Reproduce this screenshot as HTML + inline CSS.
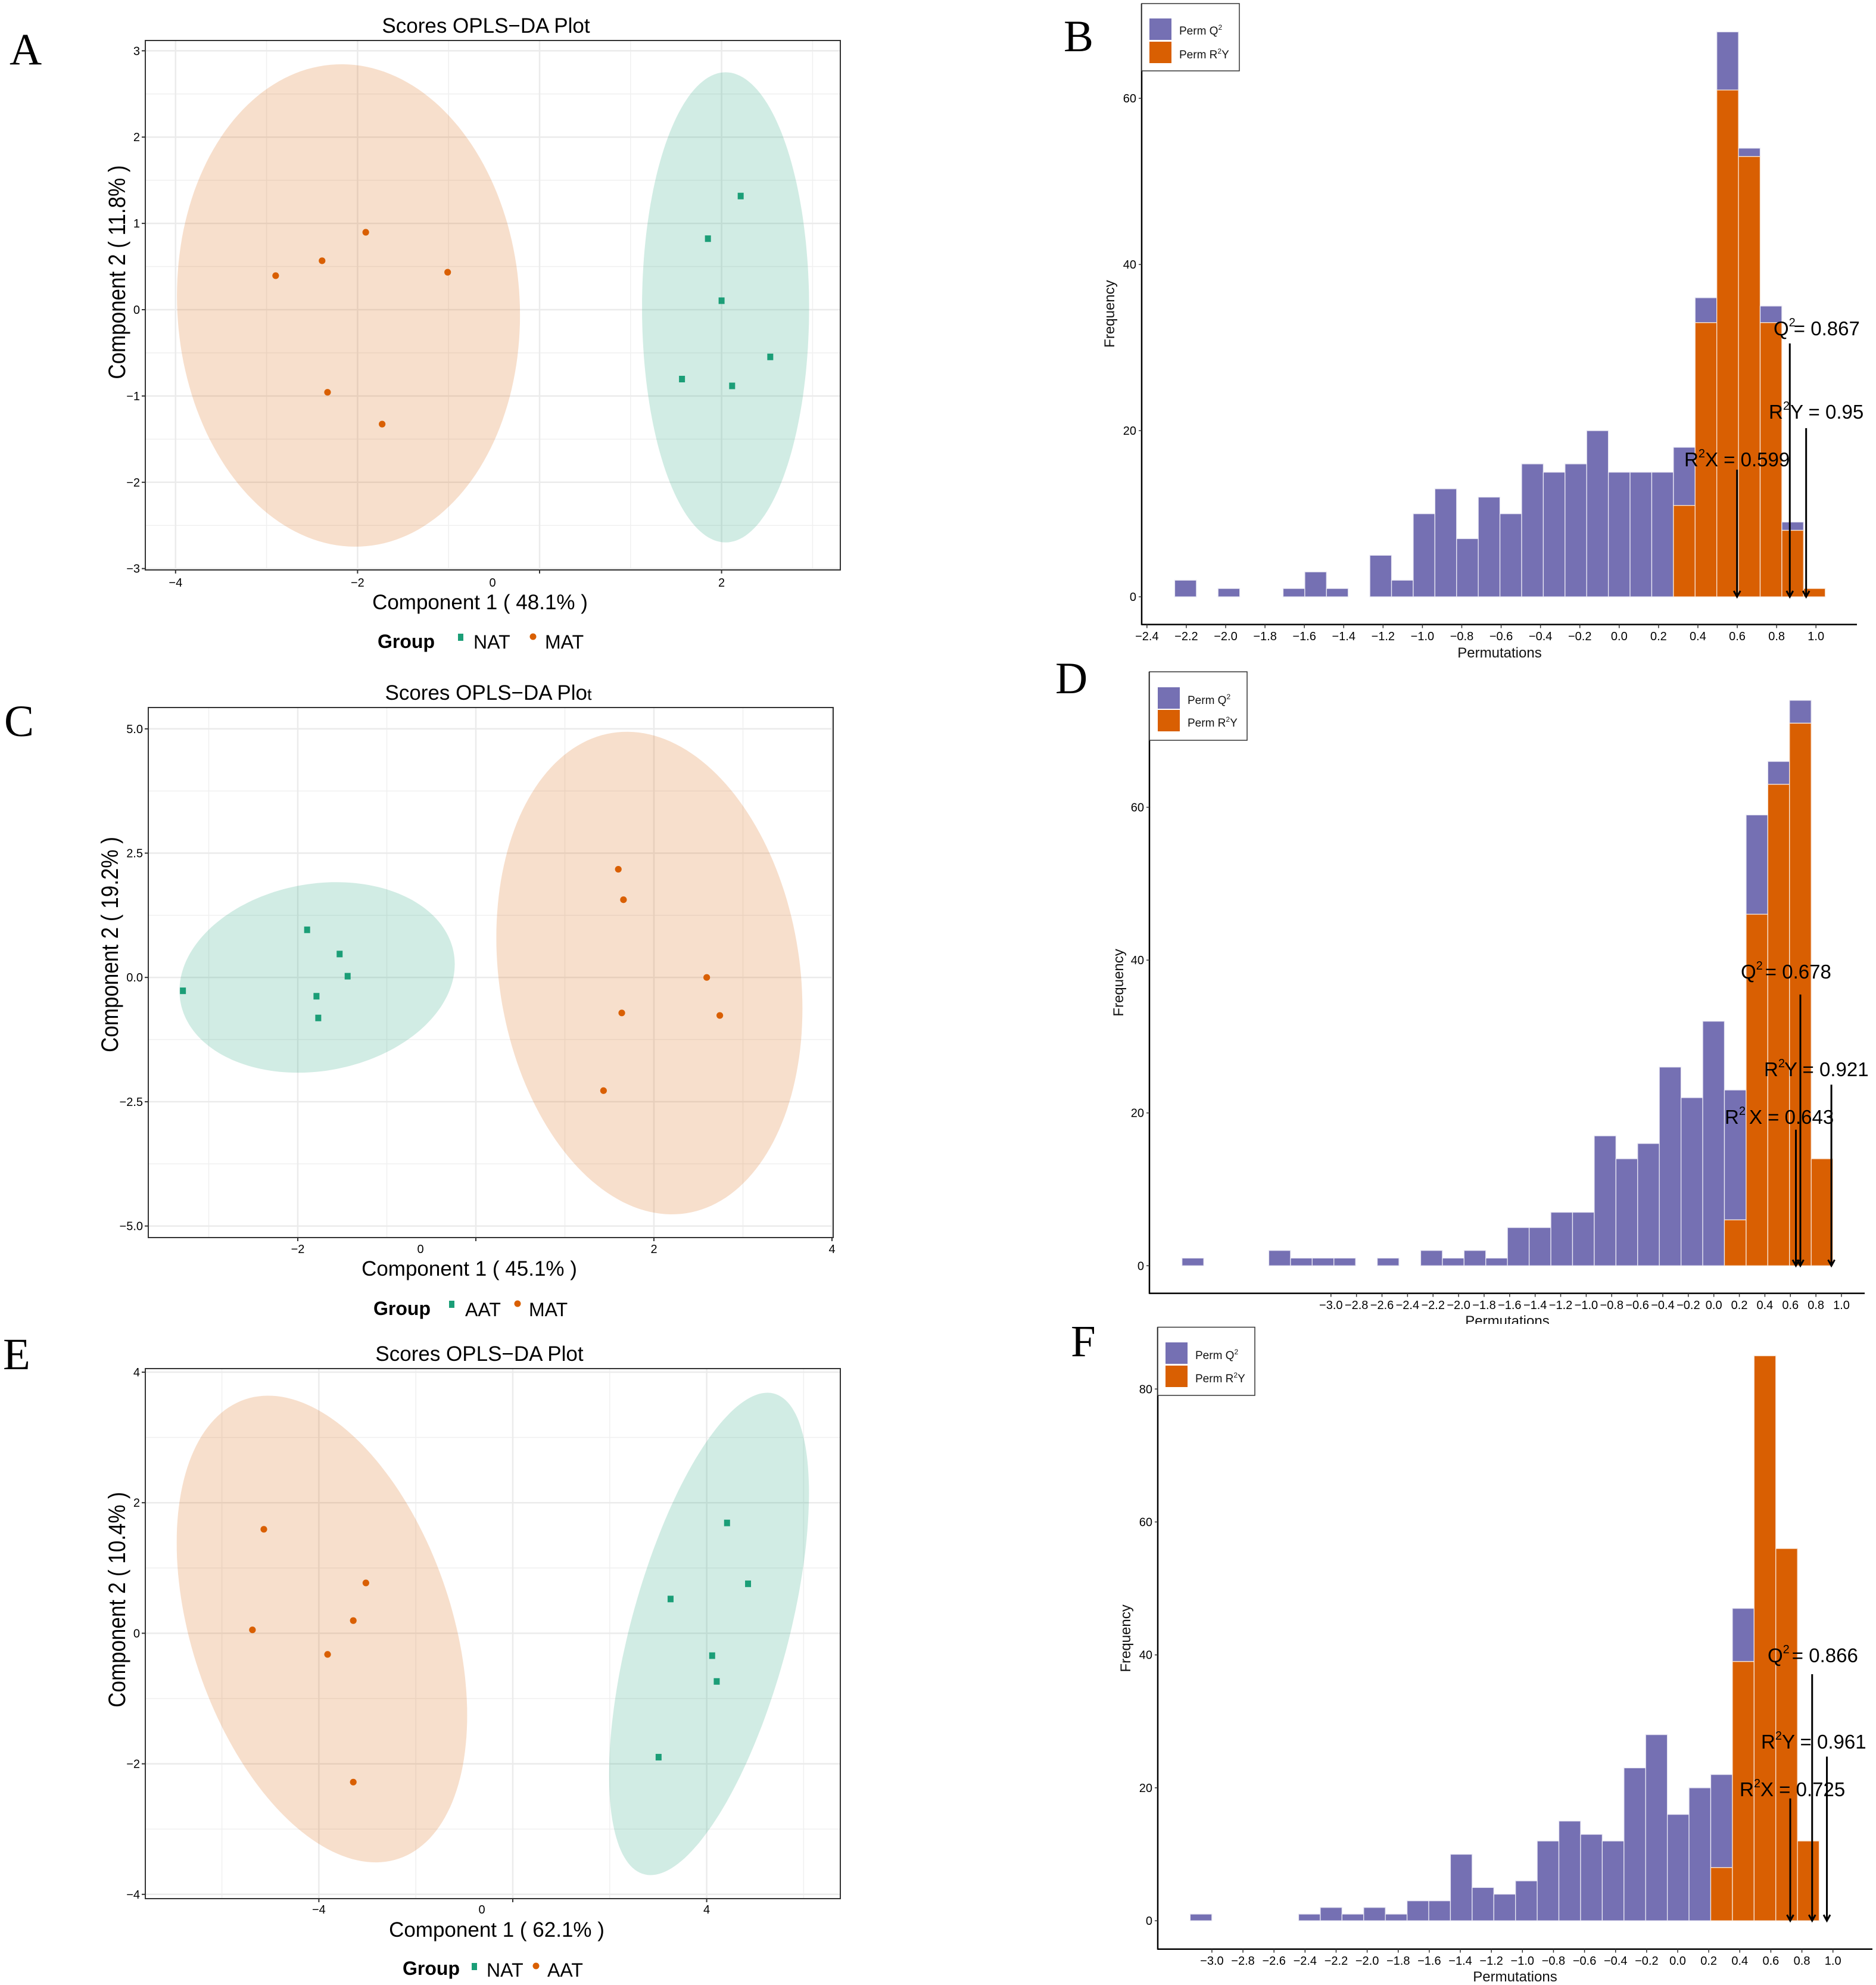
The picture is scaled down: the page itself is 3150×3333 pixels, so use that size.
<!DOCTYPE html>
<html lang="en">
<head>
<meta charset="utf-8">
<title>OPLS-DA scores and permutation tests</title>
<style>
html,body{margin:0;padding:0;background:#fff;}
svg{display:block;}
text{font-family:"Liberation Sans",Arial,sans-serif;fill:#000;}
.letter{font-family:"Liberation Serif","Times New Roman",serif;font-size:75px;}
.title{font-size:35px;text-anchor:middle;}
.axt{font-size:35px;text-anchor:middle;}
.grp{font-size:32px;font-weight:bold;}
.lg{font-size:32px;}
.ann{font-size:33px;}
.sup{font-size:20px;}
.hl{font-size:19px;fill:#111;}
.hax{font-size:24px;text-anchor:middle;fill:#111;}
</style>
</head>
<body>
<svg id="figure" xmlns="http://www.w3.org/2000/svg" width="3150" height="3333" viewBox="0 0 3150 3333">
<defs><clipPath id="clip-d-title"><rect x="2300" y="2190" width="500" height="33"/></clipPath></defs>
<rect x="0" y="0" width="3150" height="3333" fill="#fff"/>
<g id="layer-charts"></g>

<text class="letter" x="16" y="108">A</text>
<text class="letter" x="1786" y="86">B</text>
<text class="letter" x="7" y="1236">C</text>
<text class="letter" x="1772" y="1164">D</text>
<text class="letter" x="5" y="2299">E</text>
<text class="letter" x="1798" y="2277">F</text>

<!-- Panel A text -->
<text class="title" x="816" y="55">Scores OPLS−DA Plot</text>
<text class="axt" x="806" y="1023">Component 1 ( 48.1% )</text>
<text class="axt" transform="translate(210,457) rotate(-90) scale(1,1.15)">Component 2 ( 11.8% )</text>
<text class="grp" x="634" y="1088">Group</text>
<rect x="769" y="1064" width="9" height="12" fill="#1B9E77"/>
<text class="lg" x="795" y="1089">NAT</text>
<circle cx="895" cy="1069" r="5.5" fill="#D95F02"/>
<text class="lg" x="915" y="1089">MAT</text>

<!-- Panel C text -->
<text class="title" x="820" y="1175">Scores OPLS−DA Plo<tspan font-size="27">t</tspan></text>
<text class="axt" x="788" y="2142">Component 1 ( 45.1% )</text>
<text class="axt" transform="translate(198,1586) rotate(-90) scale(1,1.15)">Component 2 ( 19.2% )</text>
<text class="grp" x="627" y="2208">Group</text>
<rect x="754" y="2184" width="9" height="12" fill="#1B9E77"/>
<text class="lg" x="781" y="2210">AAT</text>
<circle cx="869" cy="2189" r="5.5" fill="#D95F02"/>
<text class="lg" x="888" y="2210">MAT</text>

<!-- Panel E text -->
<text class="title" x="805" y="2285">Scores OPLS−DA Plot</text>
<text class="axt" x="834" y="3252">Component 1 ( 62.1% )</text>
<text class="axt" transform="translate(210,2686) rotate(-90) scale(1,1.15)">Component 2 ( 10.4% )</text>
<text class="grp" x="676" y="3316">Group</text>
<rect x="792" y="3296" width="9" height="12" fill="#1B9E77"/>
<text class="lg" x="817" y="3319">NAT</text>
<circle cx="900" cy="3301" r="5.5" fill="#D95F02"/>
<text class="lg" x="919" y="3319">AAT</text>

<!-- Panel B text -->
<text class="hax" x="2518" y="1104">Permutations</text>
<text class="hax" transform="translate(1871,527) rotate(-90)">Frequency</text>
<rect x="1917" y="6" width="164" height="113" fill="#fff" stroke="#333" stroke-width="1.5"/>
<rect x="1930" y="31" width="37" height="36" fill="#7570B3"/>
<rect x="1930" y="70" width="37" height="36" fill="#D95F02"/>
<text class="hl" x="1980" y="58">Perm Q<tspan font-size="12" dy="-8">2</tspan></text>
<text class="hl" x="1980" y="98">Perm R<tspan font-size="12" dy="-8">2</tspan><tspan dy="8">Y</tspan></text>

<!-- Panel D text -->
<text class="hax" x="2531" y="2226" clip-path="url(#clip-d-title)">Permutations</text>
<text class="hax" transform="translate(1886,1650) rotate(-90)">Frequency</text>
<rect x="1930" y="1128" width="164" height="115" fill="#fff" stroke="#333" stroke-width="1.5"/>
<rect x="1944" y="1154" width="37" height="36" fill="#7570B3"/>
<rect x="1944" y="1192" width="37" height="36" fill="#D95F02"/>
<text class="hl" x="1994" y="1182">Perm Q<tspan font-size="12" dy="-8">2</tspan></text>
<text class="hl" x="1994" y="1220">Perm R<tspan font-size="12" dy="-8">2</tspan><tspan dy="8">Y</tspan></text>

<!-- Panel F text -->
<text class="hax" x="2544" y="3327">Permutations</text>
<text class="hax" transform="translate(1898,2751) rotate(-90)">Frequency</text>
<rect x="1944" y="2228.5" width="163" height="114.5" fill="#fff" stroke="#333" stroke-width="1.5"/>
<rect x="1957" y="2254" width="37" height="36" fill="#7570B3"/>
<rect x="1957" y="2293" width="37" height="36" fill="#D95F02"/>
<text class="hl" x="2007" y="2282">Perm Q<tspan font-size="12" dy="-8">2</tspan></text>
<text class="hl" x="2007" y="2321">Perm R<tspan font-size="12" dy="-8">2</tspan><tspan dy="8">Y</tspan></text>

<g id="layer-annotations"></g>
<text class="ann" x="2978" y="563">Q<tspan class="sup" dy="-15">2</tspan><tspan dy="15" dx="-3">= 0.867</tspan></text>
<text class="ann" x="2970" y="703">R<tspan class="sup" dy="-15">2</tspan><tspan dy="15" dx="1">Y = 0.95</tspan></text>
<text class="ann" x="2828" y="783">R<tspan class="sup" dy="-15">2</tspan><tspan dy="15" dx="0">X = 0.599</tspan></text>
<text class="ann" x="2923" y="1643">Q<tspan class="sup" dy="-15">2</tspan><tspan dy="15" dx="4">= 0.678</tspan></text>
<text class="ann" x="2962" y="1807">R<tspan class="sup" dy="-15">2</tspan><tspan dy="15" dx="-1">Y = 0.921</tspan></text>
<text class="ann" x="2896" y="1887">R<tspan class="sup" dy="-15">2</tspan><tspan dy="15" dx="6">X = 0.643</tspan></text>
<text class="ann" x="2968" y="2791">Q<tspan class="sup" dy="-15">2</tspan><tspan dy="15" dx="4">= 0.866</tspan></text>
<text class="ann" x="2957" y="2936">R<tspan class="sup" dy="-15">2</tspan><tspan dy="15" dx="0">Y = 0.961</tspan></text>
<text class="ann" x="2921" y="3016">R<tspan class="sup" dy="-15">2</tspan><tspan dy="15" dx="0">X = 0.725</tspan></text>
</svg>

<script>
// ---------- Panel A data ----------
const aXTicks = [-4, -2, 0, 2];
const aXMinor = [-3, -1, 1, 3];
const aYTicks = [-3, -2, -1, 0, 1, 2, 3];
const aYMinor = [-2.5, -1.5, -0.5, 0.5, 1.5, 2.5];
const aNatX = [2.21, 1.85, 2.00, 2.535, 1.565, 2.116];
const aNatY = [1.317, 0.823, 0.104, -0.547, -0.804, -0.883];
const aMatX = [-2.90, -2.39, -1.91, -1.01, -2.33, -1.73];
const aMatY = [0.394, 0.567, 0.897, 0.434, -0.957, -1.326];
const aNatEllipse = [2.044, 0.027, 0.918, 2.724, 0.0];
const aMatEllipse = [-2.10, 0.049, 1.885, 2.795, -0.04];

// ---------- Panel C data ----------
const cXTicks = [-2, 0, 2, 4];
const cXMinor = [-3, -1, 1, 3];
const cYTicks = [-5, -2.5, 0, 2.5, 5];
const cYMinor = [-3.75, -1.25, 1.25, 3.75];
const cAatX = [-3.29, -1.895, -1.53, -1.44, -1.79, -1.77];
const cAatY = [-0.269, 0.958, 0.471, 0.025, -0.378, -0.815];
const cMatX = [1.60, 1.658, 2.593, 2.74, 1.639, 1.434];
const cMatY = [2.176, 1.563, 0, -0.765, -0.714, -2.277];
const cAatEllipse = [-1.783, 0.0, 1.546, 1.916, 0.139];
const cMatEllipse = [1.949, 0.088, 1.719, 4.853, -0.147];

// ---------- Panel E data ----------
const eXTicks = [-4, 0, 4];
const eXMinor = [-6, -2, 2, 6];
const eYTicks = [-4, -2, 0, 2, 4];
const eYMinor = [-3, -1, 1, 3];
const eNatX = [4.42, 4.853, 3.255, 4.113, 4.207, 3.008];
const eNatY = [1.69, 0.758, 0.525, -0.343, -0.738, -1.898];
const eAatX = [-5.135, -3.03, -3.29, -5.37, -3.82, -3.29];
const eAatY = [1.593, 0.771, 0.194, 0.052, -0.324, -2.28];
const eNatEllipse = [4.048, -0.01, 2.062, 3.695, 0.584];
const eAatEllipse = [-3.937, 0.065, 2.996, 3.575, -0.37];

// ---------- Panel B data ----------
const bXTicks = [-2.4,-2.2,-2.0,-1.8,-1.6,-1.4,-1.2,-1.0,-0.8,-0.6,-0.4,-0.2,0.0,0.2,0.4,0.6,0.8,1.0];
const bYTicks = [0, 20, 40, 60];
const bBinStart = -2.259;
const bBinWidth = 0.1102;
const bQ2Counts = [2,0,1,0,0,1,3,1,0,5,2,10,13,7,12,10,16,15,16,20,15,15,15,7,3,7,1,2,1,0];
const bR2yCounts = [0,0,0,0,0,0,0,0,0,0,0,0,0,0,0,0,0,0,0,0,0,0,0,11,33,61,53,33,8,1];
const bStatValues = [0.599, 0.867, 0.95];
const bArrowTops = [15.3, 30.5, 20.3];

// ---------- Panel D data ----------
const dXTicks = [-3.0,-2.8,-2.6,-2.4,-2.2,-2.0,-1.8,-1.6,-1.4,-1.2,-1.0,-0.8,-0.6,-0.4,-0.2,0.0,0.2,0.4,0.6,0.8,1.0];
const dYTicks = [0, 20, 40, 60];
const dBinStart = -4.167;
const dBinWidth = 0.17;
const dQ2Counts = [1,0,0,0,2,1,1,1,0,1,0,2,1,2,1,5,5,7,7,17,14,16,26,22,32,17,13,3,3,0];
const dR2yCounts = [0,0,0,0,0,0,0,0,0,0,0,0,0,0,0,0,0,0,0,0,0,0,0,0,0,6,46,63,71,14];
const dStatValues = [0.643, 0.678, 0.921];
const dArrowTops = [17.8, 35.5, 23.7];

// ---------- Panel F data ----------
const fXTicks = [-3.0,-2.8,-2.6,-2.4,-2.2,-2.0,-1.8,-1.6,-1.4,-1.2,-1.0,-0.8,-0.6,-0.4,-0.2,0.0,0.2,0.4,0.6,0.8,1.0];
const fYTicks = [0, 20, 40, 60, 80];
const fBinStart = -3.14;
const fBinWidth = 0.1397;
const fQ2Counts = [1,0,0,0,0,1,2,1,2,1,3,3,10,5,4,6,12,15,13,12,23,28,16,20,14,8,0,0,0];
const fR2yCounts = [0,0,0,0,0,0,0,0,0,0,0,0,0,0,0,0,0,0,0,0,0,0,0,0,8,39,85,56,12];
const fStatValues = [0.725, 0.866, 0.961];
const fArrowTops = [18.4, 37.1, 24.7];

// ---------- Drawing ----------
const NS = 'http://www.w3.org/2000/svg';
const GREEN = '#1B9E77', ORANGE = '#D95F02', PURPLE = '#7570B3';
const chartLayer = document.getElementById('layer-charts');
const annotLayer = document.getElementById('layer-annotations');

function make(tag, parent, props) {
  const el = document.createElementNS(NS, tag);
  for (const k in props) el.setAttribute(k, props[k]);
  parent.appendChild(el);
  return el;
}
function minusText(v, digits) {
  const s = digits ? Math.abs(v).toFixed(digits) : String(Math.abs(v));
  return (v < 0 ? '\u2212' : '') + s;
}

function drawScores(prefix, box, xTicks, xMinor, yTicks, yMinor, yDigits, groupA, groupB) {
  const sx = v => box.x0 + v * box.xUnit;
  const sy = v => box.y0 - v * box.yUnit;
  const g = make('g', chartLayer, {});
  
  

  xMinor.forEach(v => {
    const el = make('line', g, {x1: sx(v), x2: sx(v), y1: box.top, y2: box.bottom, stroke: '#f0f0f0', 'stroke-width': 1.5});
    
    
  });
  yMinor.forEach(v => {
    const el = make('line', g, {x1: box.left, x2: box.right, y1: sy(v), y2: sy(v), stroke: '#f0f0f0', 'stroke-width': 1.5});
    
    
  });
  xTicks.forEach(v => {
    const el = make('line', g, {x1: sx(v), x2: sx(v), y1: box.top, y2: box.bottom, stroke: '#ebebeb', 'stroke-width': 2.5});
    
    
  });
  yTicks.forEach(v => {
    const el = make('line', g, {x1: box.left, x2: box.right, y1: sy(v), y2: sy(v), stroke: '#ebebeb', 'stroke-width': 2.5});
    
    
  });

  [groupA, groupB].forEach(group => {
    const [cx, cy, rx, ry, rho] = group.ellipse;
    const phi = Math.acos(rho);
    const pts = [];
    for (let i = 0; i < 180; i++) {
      const t = i / 180 * 2 * Math.PI;
      pts.push(sx(cx + rx * Math.cos(t)).toFixed(1) + ',' + sy(cy + ry * Math.cos(t - phi)).toFixed(1));
    }
    const el = make('polygon', g, {points: pts.join(' '), fill: group.color, 'fill-opacity': 0.2});
    
    
  });

  [groupA, groupB].forEach(group => {
    group.xs.forEach((xv, i) => {
      let el;
      if (group.square) {
        el = make('rect', g, {x: sx(xv) - 5, y: sy(group.ys[i]) - 5.5, width: 10, height: 11, fill: group.color});
      } else {
        el = make('circle', g, {cx: sx(xv), cy: sy(group.ys[i]), r: 5.6, fill: group.color});
      }
      
      
    });
  });

  const frame = make('rect', g, {x: box.left, y: box.top, width: box.right - box.left, height: box.bottom - box.top, fill: 'none', stroke: '#333', 'stroke-width': 2});
  
  

  xTicks.forEach(v => {
    const tick = make('line', g, {x1: sx(v), x2: sx(v), y1: box.bottom, y2: box.bottom + 6, stroke: '#333', 'stroke-width': 2});
    
    
    const off = v === 0 ? box.zeroOffset : 0;
    const lab = make('text', g, {x: sx(v) + off, y: box.xLabelY, 'text-anchor': 'middle', 'font-size': 20, fill: '#333'});
    lab.textContent = minusText(v, 0);
    
    
  });
  yTicks.forEach(v => {
    const tick = make('line', g, {x1: box.left - 6, x2: box.left, y1: sy(v), y2: sy(v), stroke: '#333', 'stroke-width': 2});
    
    
    const lab = make('text', g, {x: box.left - 9, y: sy(v) + 7, 'text-anchor': 'end', 'font-size': 20, fill: '#333'});
    lab.textContent = minusText(v, yDigits);
    
    
  });
}

function drawHistogram(prefix, box, xTicks, yTicks, binStart, binWidth, q2, r2y, stats, tops) {
  const sx = v => box.x0 + v * box.xUnit;
  const sy = v => box.y0 - v * box.yUnit;
  const g = make('g', chartLayer, {});
  
  

  q2.forEach((count, i) => {
    const x1 = sx(binStart + i * binWidth), x2 = sx(binStart + (i + 1) * binWidth);
    const r = r2y[i];
    if (count > 0) {
      const bar = make('rect', g, {x: x1, y: sy(r + count), width: x2 - x1, height: sy(r) - sy(r + count), fill: PURPLE, stroke: '#e9e8f3', 'stroke-width': 1.3});
      
      
    }
    if (r > 0) {
      const bar = make('rect', g, {x: x1, y: sy(r), width: x2 - x1, height: sy(0) - sy(r), fill: ORANGE, stroke: '#f8e6d8', 'stroke-width': 1.3});
      
      
    }
  });

  const yAxis = make('line', g, {x1: box.left, x2: box.left, y1: box.top, y2: box.bottom + 1, stroke: '#000', 'stroke-width': 2.5});
  
  
  const xAxis = make('line', g, {x1: box.left, x2: box.right, y1: box.bottom, y2: box.bottom, stroke: '#000', 'stroke-width': 2.5});
  
  

  xTicks.forEach(v => {
    const tick = make('line', g, {x1: sx(v), x2: sx(v), y1: box.bottom, y2: box.bottom + 6, stroke: '#333', 'stroke-width': 1.5});
    
    
    const lab = make('text', g, {x: sx(v), y: box.xLabelY, 'text-anchor': 'middle', 'font-size': 20, fill: '#222'});
    lab.textContent = minusText(v, 1);
    
    
  });
  yTicks.forEach(v => {
    const tick = make('line', g, {x1: box.left - 5, x2: box.left, y1: sy(v), y2: sy(v), stroke: '#333', 'stroke-width': 1.5});
    
    
    const lab = make('text', g, {x: box.left - 9, y: sy(v) + 7, 'text-anchor': 'end', 'font-size': 20, fill: '#222'});
    lab.textContent = String(v);
    
    
  });

  stats.forEach((v, i) => {
    const x = sx(v), yTop = sy(tops[i]), yEnd = sy(0);
    const arrow = make('path', annotLayer, {
      d: 'M' + x + ' ' + yTop + 'L' + x + ' ' + yEnd + 'M' + (x - 5.5) + ' ' + (yEnd - 10) + 'L' + x + ' ' + yEnd + 'L' + (x + 5.5) + ' ' + (yEnd - 10),
      fill: 'none', stroke: '#000', 'stroke-width': 3
    });
    
    
  });
}

drawScores('a',
  {x0: 906, xUnit: 152.8, y0: 520, yUnit: 144.9, left: 244, right: 1411, top: 68, bottom: 957, xLabelY: 985, zeroOffset: -79},
  aXTicks, aXMinor, aYTicks, aYMinor, 0,
  {name: 'nat', color: GREEN, square: true, xs: aNatX, ys: aNatY, ellipse: aNatEllipse},
  {name: 'mat', color: ORANGE, square: false, xs: aMatX, ys: aMatY, ellipse: aMatEllipse});

drawScores('c',
  {x0: 799, xUnit: 149.5, y0: 1641.2, yUnit: 83.48, left: 249, right: 1399, top: 1188, bottom: 2078, xLabelY: 2104, zeroOffset: -93},
  cXTicks, cXMinor, cYTicks, cYMinor, 1,
  {name: 'aat', color: GREEN, square: true, xs: cAatX, ys: cAatY, ellipse: cAatEllipse},
  {name: 'mat', color: ORANGE, square: false, xs: cMatX, ys: cMatY, ellipse: cMatEllipse});

drawScores('e',
  {x0: 861, xUnit: 81.4, y0: 2742.4, yUnit: 109.6, left: 244, right: 1411, top: 2298, bottom: 3188, xLabelY: 3213, zeroOffset: -52},
  eXTicks, eXMinor, eYTicks, eYMinor, 0,
  {name: 'nat', color: GREEN, square: true, xs: eNatX, ys: eNatY, ellipse: eNatEllipse},
  {name: 'aat', color: ORANGE, square: false, xs: eAatX, ys: eAatY, ellipse: eAatEllipse});

drawHistogram('b',
  {x0: 2718.8, xUnit: 330.4, y0: 1002.1, yUnit: 13.95, left: 1917, right: 3118, top: 6, bottom: 1048.6, xLabelY: 1075},
  bXTicks, bYTicks, bBinStart, bBinWidth, bQ2Counts, bR2yCounts, bStatValues, bArrowTops);

drawHistogram('d',
  {x0: 2877.7, xUnit: 214.3, y0: 2125.3, yUnit: 12.83, left: 1930, right: 3131, top: 1128, bottom: 2171.6, xLabelY: 2198},
  dXTicks, dYTicks, dBinStart, dBinWidth, dQ2Counts, dR2yCounts, dStatValues, dArrowTops);

drawHistogram('f',
  {x0: 2817, xUnit: 260.7, y0: 3225.1, yUnit: 11.16, left: 1944, right: 3144, top: 2228.5, bottom: 3272.7, xLabelY: 3299},
  fXTicks, fYTicks, fBinStart, fBinWidth, fQ2Counts, fR2yCounts, fStatValues, fArrowTops);
</script>
</body>
</html>
